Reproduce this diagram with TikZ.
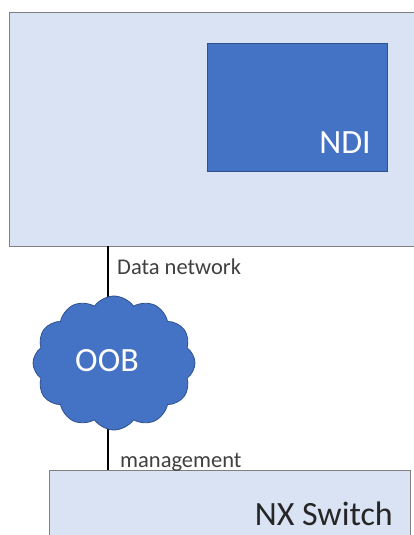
\documentclass[tikz,border=0pt]{standalone}
\usepackage{fontspec}
\setmainfont{Carlito}
\usetikzlibrary{shapes.symbols}
\definecolor{lightbox}{HTML}{DAE3F3}
\definecolor{boxedge}{HTML}{7F7F7F}
\definecolor{ofblue}{HTML}{4472C4}
\definecolor{ofblueedge}{HTML}{2F528F}
\definecolor{labelgray}{HTML}{404040}
\tikzset{
  outerbox/.style={draw=boxedge, line width=1pt, fill=lightbox, rectangle, inner sep=0pt},
  bluebox/.style={draw=ofblueedge, line width=0.8pt, fill=ofblue, rectangle, inner sep=0pt},
  link/.style={draw=black, line width=2.5pt},
  lbl/.style={text=labelgray, font=\fontsize{22.5}{26}\selectfont, anchor=west, inner sep=0pt},
  bigtxt/.style={font=\fontsize{34}{40}\selectfont, inner sep=0pt},
}
\begin{document}
\begin{tikzpicture}[x=1pt, y=-1pt]
\useasboundingbox (0,0) rectangle (414,535);
\fill[white] (0,0) rectangle (414,535);
% top box
\node[outerbox, minimum width=420pt, minimum height=234pt, anchor=north west] (host) at (9,12) {};
\node[bluebox, minimum width=180pt, minimum height=128pt, anchor=north west] (ndi) at (207,43) {};
\node[bigtxt, text=white, anchor=base east] (nditext) at (371,153) {NDI};
% bottom box
\node[outerbox, minimum width=361pt, minimum height=90pt, anchor=north west] (nx) at (49,470) {};
\node[bigtxt, text=black!85, anchor=base east] (nxtext) at (393,525) {NX Switch};
% links
\coordinate (p1) at (108,246);
\coordinate (p2) at (108,310);
\coordinate (p3) at (108,420);
\coordinate (p4) at (108,470);
\draw[link] (p1) -- (p2);
\draw[link] (p3) -- (p4);
% cloud
\node[cloud, cloud puffs=12, cloud puff arc=110, aspect=1.2, draw=ofblueedge, line width=0.8pt, fill=ofblue,
      minimum width=162pt, minimum height=134pt, inner sep=0pt] (oob) at (114,363) {};
\node[bigtxt, text=white] (oobtext) at (107,361) {OOB};
\node[lbl] (dn) at (117,267) {Data network};
\node[lbl] (mg) at (120,462) {management};
\end{tikzpicture}
\end{document}
